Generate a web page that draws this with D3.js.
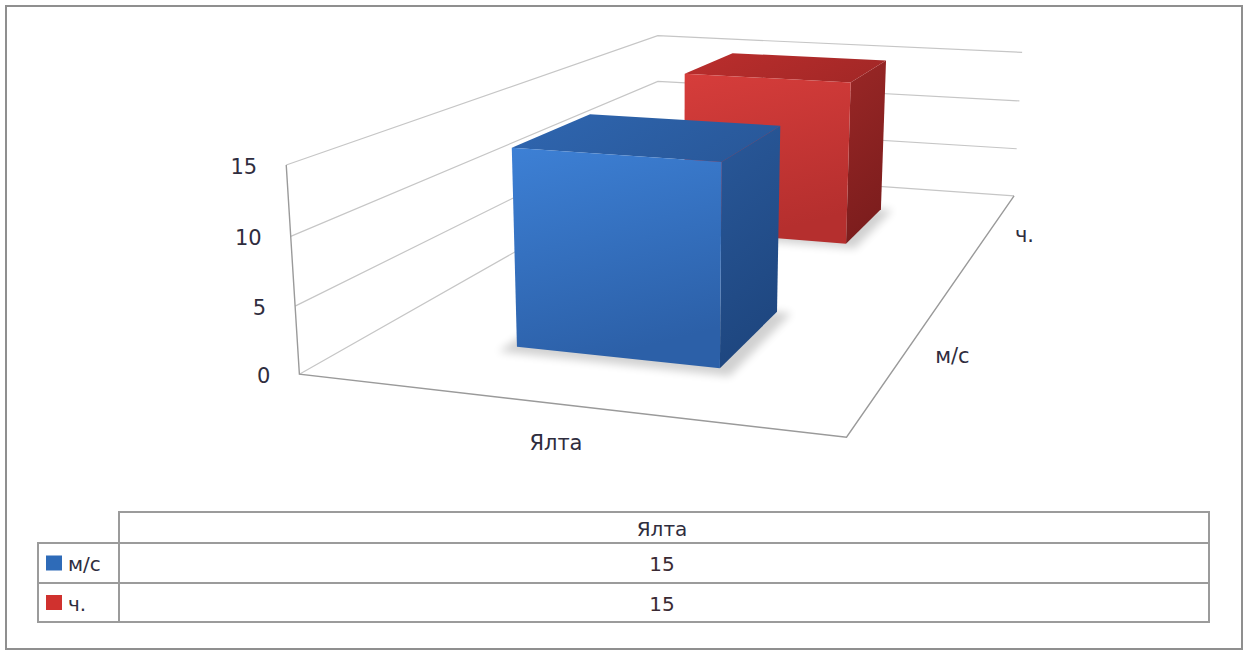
<!DOCTYPE html>
<html>
<head>
<meta charset="utf-8">
<script src="https://cdn.jsdelivr.net/npm/d3@7"></script>
<style>
  html, body { margin: 0; padding: 0; background: #fff; }
  svg { display: block; }
  text { font-family: "DejaVu Sans", Verdana, sans-serif; }
</style>
</head>
<body>
<svg id="chart" width="1249" height="650"></svg>
<script>
// ---------------- DATA ----------------
const categories = ["Ялта"];
const seriesNames = ["м/с", "ч."];
const msValues = [15];
const chValues = [15];
const yTicks = [0, 5, 10, 15];
const yMax = 15;

// ---------------- STYLES / LAYOUT ----------------
const W = 1249, H = 650;
const seriesStyle = {
  "м/с": { key: "#2e6bb8", front: ["#3d80d5", "#2c60a8"], top: ["#2f66b0", "#29599b"], side: ["#295899", "#1e467f"] },
  "ч.":  { key: "#d0312e", front: ["#d63d3b", "#b52f2e"], top: ["#bb2e2d", "#a52827"], side: ["#9a2726", "#7c1d1d"] }
};
const textCol = "#2f2d3e";
// screen positions of the 3D plot frame (unit cube: x = category, y = value / max, z = depth)
const frame = [
  [0, 0, 0, 298, 374], [0, 1/3, 0, 296, 305], [0, 2/3, 0, 292, 237], [0, 1, 0, 285, 166],
  [1, 0, 0, 847, 437],
  [0, 0, 1, 658, 170], [0, 1/3, 1, 658, 127], [0, 2/3, 1, 658, 82], [0, 1, 1, 658, 35],
  [1, 0, 1, 1013, 197], [1, 1/3, 1, 1018, 148], [1, 2/3, 1, 1020, 101], [1, 1, 1, 1021, 52]
];

// ---------------- CAMERA FIT (DLT) ----------------
function fitCamera(pts) {
  const cu = 640, cv = 300, s = 500;
  const A = [], b = [];
  pts.forEach(([X, Y, Z, u0, v0]) => {
    const u = (u0 - cu) / s, v = (v0 - cv) / s;
    A.push([X, Y, Z, 1, 0, 0, 0, 0, -u * X, -u * Y, -u * Z]); b.push(u);
    A.push([0, 0, 0, 0, X, Y, Z, 1, -v * X, -v * Y, -v * Z]); b.push(v);
  });
  const n = 11;
  const M = Array.from({length: n}, () => new Array(n + 1).fill(0));
  for (let i = 0; i < n; i++) {
    for (let j = 0; j < n; j++) {
      let acc = 0;
      for (let r = 0; r < A.length; r++) acc += A[r][i] * A[r][j];
      M[i][j] = acc;
    }
    let acc = 0;
    for (let r = 0; r < A.length; r++) acc += A[r][i] * b[r];
    M[i][n] = acc;
  }
  for (let c = 0; c < n; c++) {
    let piv = c;
    for (let r = c + 1; r < n; r++) if (Math.abs(M[r][c]) > Math.abs(M[piv][c])) piv = r;
    [M[c], M[piv]] = [M[piv], M[c]];
    for (let r = 0; r < n; r++) {
      if (r === c) continue;
      const f = M[r][c] / M[c][c];
      for (let k = c; k <= n; k++) M[r][k] -= f * M[c][k];
    }
  }
  const p = M.map((row, i) => row[n] / row[i]);
  return function (X, Y, Z) {
    const w = p[8] * X + p[9] * Y + p[10] * Z + 1;
    const u = (p[0] * X + p[1] * Y + p[2] * Z + p[3]) / w;
    const v = (p[4] * X + p[5] * Y + p[6] * Z + p[7]) / w;
    return [u * s + cu, v * s + cv];
  };
}
const proj = fitCamera(frame);

// ---------------- SCALES ----------------
const yScale = d3.scaleLinear().domain([0, yMax]).range([0, 1]);
const xBand = d3.scaleBand().domain(categories).range([0, 1]);
const zBand = d3.scaleBand().domain(seriesNames).range([0, 1]).paddingInner(0.61).paddingOuter(0.278);
const barFrac = 0.4; // gap width 150%

const svg = d3.select("#chart");
const defs = svg.append("defs");
const line = d3.line();
const path3 = pts => line(pts.map(p => proj(p[0], p[1], p[2]))) + "Z";

// outer border
svg.append("rect").attr("x", 6).attr("y", 6).attr("width", 1236).attr("height", 643)
  .attr("fill", "#fff").attr("stroke", "#8f8f8f").attr("stroke-width", 2);

// ---------------- WALLS / GRID ----------------
const grid = svg.append("g").attr("fill", "none");
yTicks.forEach(t => {
  const y = yScale(t);
  grid.append("path").attr("d", line([proj(0, y, 0), proj(0, y, 1), proj(1, y, 1)]))
    .attr("stroke", "#c6c6c6").attr("stroke-width", 1.2);
});
// axis edges
grid.append("path").attr("d", line([proj(0, 1, 0), proj(0, 0, 0), proj(1, 0, 0), proj(1, 0, 1)]))
  .attr("stroke", "#9a9a9a").attr("stroke-width", 1.4);

// tick labels
svg.append("g").selectAll("text").data(yTicks).join("text")
  .attr("x", d => proj(0, yScale(d), 0)[0] - 29)
  .attr("y", d => proj(0, yScale(d), 0)[1] + 2)
  .attr("text-anchor", "end").attr("dominant-baseline", "central")
  .attr("font-size", 21).attr("fill", textCol).text(d => d);

// category label (below the front floor edge)
categories.forEach(c => {
  const xa = xBand(c), xb = xa + xBand.bandwidth();
  const pa = proj(xa, 0, 0), pb = proj(xb, 0, 0);
  svg.append("text").attr("x", (pa[0] + pb[0]) / 2 - 17).attr("y", (pa[1] + pb[1]) / 2 + 37)
    .attr("text-anchor", "middle").attr("dominant-baseline", "central")
    .attr("font-size", 21).attr("fill", textCol).text(c);
});
// series labels (right of the side floor edge)
seriesNames.forEach(sn => {
  const zc = zBand(sn) + zBand.bandwidth() / 2;
  const p = proj(1.09, 0, zc);
  svg.append("text").attr("x", p[0]).attr("y", p[1] - 3).attr("text-anchor", "middle")
    .attr("dominant-baseline", "central").attr("font-size", 21).attr("fill", textCol).text(sn);
});

// ---------------- BARS ----------------
const blur = defs.append("filter").attr("id", "shadow").attr("x", "-20%").attr("y", "-20%").attr("width", "140%").attr("height", "140%");
blur.append("feGaussianBlur").attr("stdDeviation", 4);

function grad(id, c, x2, y2) {
  const g = defs.append("linearGradient").attr("id", id)
    .attr("x1", 0).attr("y1", 0).attr("x2", x2).attr("y2", y2);
  g.append("stop").attr("offset", "0%").attr("stop-color", c[0]);
  g.append("stop").attr("offset", "100%").attr("stop-color", c[1]);
}

const barData = [];
seriesNames.forEach((sn, si) => {
  const vals = si === 0 ? msValues : chValues;
  categories.forEach((c, ci) => barData.push({ series: sn, si, cat: c, value: vals[ci] }));
});
// draw back rows first
barData.sort((a, b) => b.si - a.si);

const bars = svg.append("g");
barData.forEach((d, i) => {
  const st = seriesStyle[d.series];
  const bw = xBand.bandwidth();
  const x0 = xBand(d.cat) + bw * (1 - barFrac) / 2, x1 = x0 + bw * barFrac;
  const z0 = zBand(d.series), z1 = z0 + zBand.bandwidth();
  const y1 = yScale(d.value);
  grad("f" + i, st.front, 0.25, 1);
  grad("t" + i, st.top, 1, 0.3);
  grad("s" + i, st.side, 0.2, 1);
  const g = bars.append("g");
  g.append("path").attr("d", path3([[x0 - 0.02, 0, z0 - 0.02], [x1 + 0.03, 0, z0 - 0.02], [x1 + 0.03, 0, z1], [x0 - 0.02, 0, z1]]))
    .attr("fill", "#000").attr("opacity", 0.18).attr("filter", "url(#shadow)");
  g.append("path").attr("d", path3([[x1, 0, z0], [x1, 0, z1], [x1, y1, z1], [x1, y1, z0]])).attr("fill", `url(#s${i})`);
  g.append("path").attr("d", path3([[x0, y1, z0], [x1, y1, z0], [x1, y1, z1], [x0, y1, z1]])).attr("fill", `url(#t${i})`);
  g.append("path").attr("d", path3([[x0, 0, z0], [x1, 0, z0], [x1, y1, z0], [x0, y1, z0]])).attr("fill", `url(#f${i})`);
});

// ---------------- DATA TABLE ----------------
const tbl = { left: 38, col: 119, right: 1209, rows: [512, 543, 583, 622] };
const tg = svg.append("g");
const lineCol = "#9b9b9b";
// header cell
tg.append("rect").attr("x", tbl.col).attr("y", tbl.rows[0]).attr("width", tbl.right - tbl.col)
  .attr("height", tbl.rows[1] - tbl.rows[0]).attr("fill", "none").attr("stroke", lineCol).attr("stroke-width", 2);
// body rows
seriesNames.forEach((sn, i) => {
  const y0 = tbl.rows[i + 1], y1 = tbl.rows[i + 2];
  tg.append("rect").attr("x", tbl.left).attr("y", y0).attr("width", tbl.col - tbl.left).attr("height", y1 - y0)
    .attr("fill", "none").attr("stroke", lineCol).attr("stroke-width", 2);
  tg.append("rect").attr("x", tbl.col).attr("y", y0).attr("width", tbl.right - tbl.col).attr("height", y1 - y0)
    .attr("fill", "none").attr("stroke", lineCol).attr("stroke-width", 2);
  const ym = (y0 + y1) / 2;
  tg.append("rect").attr("x", 46).attr("y", ym - 7.5).attr("width", 16).attr("height", 15).attr("fill", seriesStyle[sn].key);
  tg.append("text").attr("x", 68).attr("y", ym + 1).attr("dominant-baseline", "central")
    .attr("font-size", 20).attr("fill", textCol).text(sn);
  const vals = i === 0 ? msValues : chValues;
  categories.forEach((c, ci) => {
    const cw = (tbl.right - tbl.col) / categories.length;
    tg.append("text").attr("x", tbl.col + cw * (ci + 0.5) - 2).attr("y", ym + 1).attr("text-anchor", "middle")
      .attr("dominant-baseline", "central").attr("font-size", 20).attr("fill", "#3a2a33").text(vals[ci]);
  });
});
categories.forEach((c, ci) => {
  const cw = (tbl.right - tbl.col) / categories.length;
  tg.append("text").attr("x", tbl.col + cw * (ci + 0.5) - 2).attr("y", (tbl.rows[0] + tbl.rows[1]) / 2 + 1)
    .attr("text-anchor", "middle").attr("dominant-baseline", "central")
    .attr("font-size", 20).attr("fill", textCol).text(c);
});
</script>
</body>
</html>
